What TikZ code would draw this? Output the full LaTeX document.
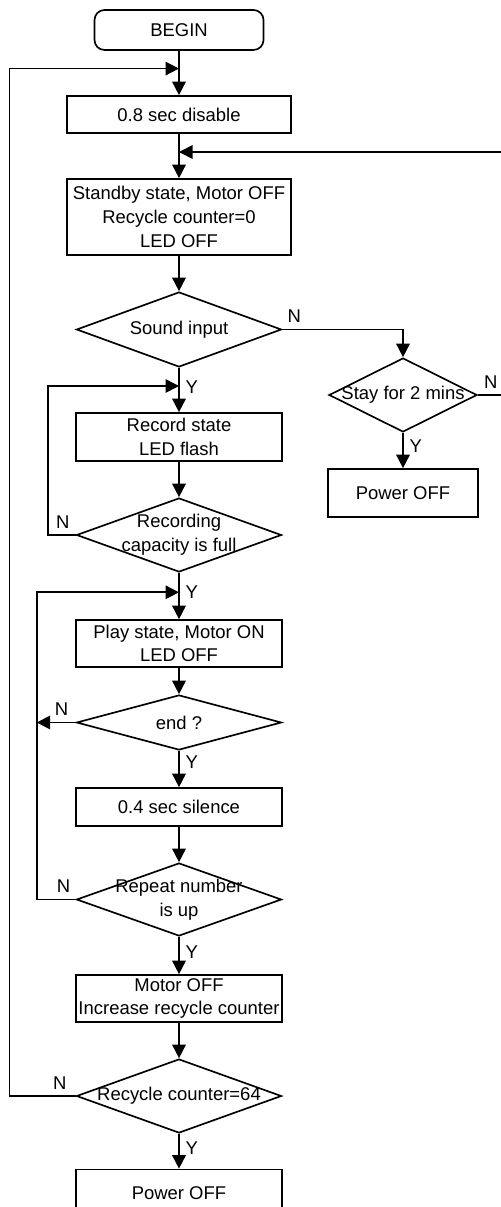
\documentclass[tikz,border=0pt]{standalone}
\usepackage{fontspec}
\setmainfont{Liberation Sans}
\usetikzlibrary{arrows.meta, positioning, shapes.geometric, calc}

\begin{document}
\begin{tikzpicture}[
        node distance=1cm,on grid,>={Triangle[length=0.27cm,width=0.27cm]},
        line width=0.95pt,
        every node/.style={font=\fontsize{10.5}{13.5}\selectfont},
        box/.style={draw, rectangle, align=center, inner sep=0pt, minimum width=4.12cm, minimum height=0.94cm},
        decision/.style={draw, diamond, aspect=2.77, align=center, inner xsep=-2pt, inner ysep=-5pt, minimum width=4.1cm, minimum height=1.48cm},
        ]

        \useasboundingbox (0,0) rectangle (10.02,-24.14);
        \clip (0,0) rectangle (10.02,-24.14);

        \node[box, rounded corners=0.2cm, minimum width=3.38cm, minimum height=0.8cm] (begin) at (3.58,-0.6) {BEGIN};
        \node[box, minimum width=4.48cm, minimum height=0.74cm] (dis) [below=1.69cm of begin] {0.8 sec disable};
        \node[box, minimum width=4.48cm, minimum height=1.52cm] (standby) [below=2.05cm of dis] {Standby state, Motor OFF\\Recycle counter=0\\LED OFF};
        \node[decision, minimum height=1.5cm] (sound) [below=2.25cm of standby] {Sound input};
        \node[decision, minimum width=2.96cm] (stay) [below right=1.31cm and 4.48cm of sound] {Stay for 2 mins};
        \node[box, minimum width=3cm, minimum height=0.96cm] (off_1) [below=1.96cm of stay] {Power OFF};
        \node[box, minimum height=0.96cm] (rec) [below=2.15cm of sound] {Record state\\LED flash};
        \node[decision] (full) [below=1.96cm of rec] {Recording\\capacity is full};
        \node[box] (play) [below=2.17cm of full] {Play state, Motor ON\\LED OFF};
        \node[decision, minimum height=1.1cm] (endq) [below=1.58cm of play] {end ?};
        \node[box, minimum height=0.76cm] (silence) [below=1.69cm of endq] {0.4 sec silence};
        \node[decision, minimum height=1.46cm] (repeat) [below=1.85cm of silence] {Repeat number\\is up};
        \node[box] (motor) [below=1.98cm of repeat] {Motor OFF\\Increase recycle counter};
        \node[decision] (cnt) [below=1.95cm of motor] {Recycle counter=64};
        \node[box] (off_2) [below=1.94cm of cnt] {Power OFF};

        % joins on the main line
        \coordinate (j_0) at ($(begin.south)!0.4!(dis.north)$);
        \coordinate (j_1) at ($(dis.south)!0.41!(standby.north)$);
        \coordinate (j_2) at ($(sound.south)!0.41!(rec.north)$);
        \coordinate (j_3) at ($(full.south)!0.42!(play.north)$);
        \coordinate (l_1) at ($(endq.west)+(-0.78,0)$);

        \draw[->] (begin) -- (dis);
        \draw[->] (dis) -- (standby);
        \draw[->] (standby) -- (sound);
        \draw[->] (sound) -- node[pos=0.43, right] {Y} (rec);
        \draw[->] (sound) -| node[pos=0.05, above] {N} (stay);
        \draw[->] (stay) -- node[pos=0.38, right] {Y} (off_1);
        \draw[->] (stay.east) -- node[pos=0.26, above] {N} ++(1,0) |- (j_1);
        \draw[->] (rec) -- (full);
        \draw[->] (full.west) -- node[pos=0.46, above] {N} ++(-0.56,0) |- (j_2);
        \draw[->] (full) -- node[pos=0.42, right] {Y} (play);
        \draw[->] (play) -- (endq);
        \draw[->] (endq.west) -- node[pos=0.36, above] {N} (l_1);
        \draw[->] (endq) -- node[pos=0.32, right] {Y} (silence);
        \draw[->] (silence) -- (repeat);
        \draw[->] (repeat.west) -- node[pos=0.31, above] {N} ++(-0.78,0) |- (j_3);
        \draw[->] (repeat) -- node[pos=0.41, right] {Y} (motor);
        \draw[->] (motor) -- (cnt);
        \draw[->] (cnt.west) -- node[pos=0.24, above] {N} ++(-1.32,0) |- (j_0);
        \draw[->] (cnt) -- node[pos=0.4, right] {Y} (off_2);
      \end{tikzpicture}
\end{document}
